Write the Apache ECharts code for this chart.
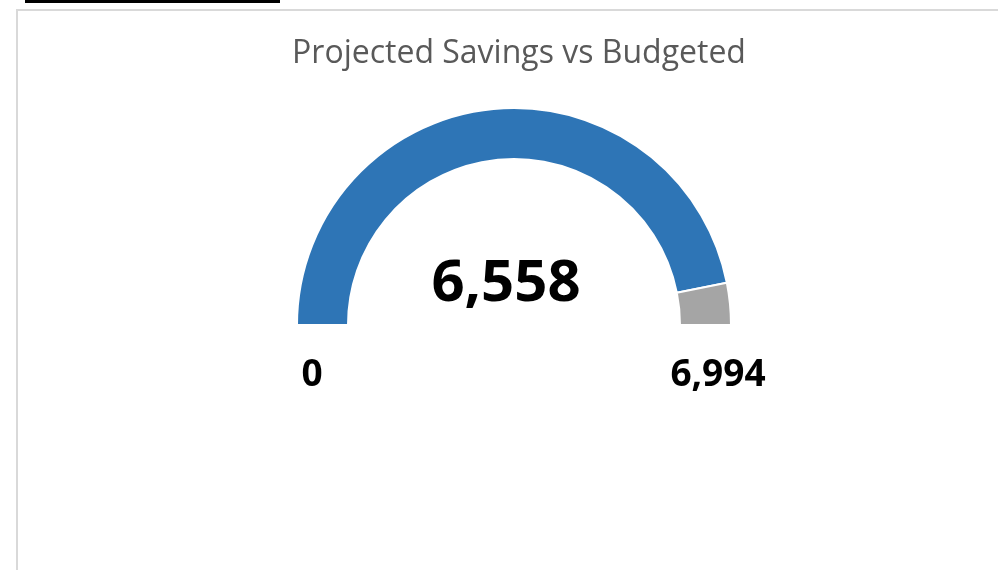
<!DOCTYPE html>
<html>
<head>
<meta charset="utf-8">
<script src="https://cdn.jsdelivr.net/npm/echarts@6/dist/echarts.min.js"></script>
<style>
  html, body { margin: 0; padding: 0; background: #fff; }
  #main { width: 998px; height: 570px; }
</style>
</head>
<body>
<div id="main"></div>
<script>
// gauge values
const projected = 6558
const budgeted = 6994
const minLabel = 0
const chartTitle = 'Projected Savings vs Budgeted'

const sliceNames = ['Projected', 'Remaining', 'Hidden']
const sliceColors = ['#2e75b6', '#a5a5a5', 'transparent']

const fmt = v => v.toLocaleString('en-US')

const chart = echarts.init(document.getElementById('main'))

const sliceValues = [projected, budgeted - projected, budgeted]

const option = {
    backgroundColor: '#fff',
    title: {
        text: chartTitle,
        left: 514,
        top: 33,
        textAlign: 'center',
        textStyle: {
            fontFamily: 'Open Sans',
            fontSize: 32,
            fontWeight: 'normal',
            color: '#595959'
        }
    },
    graphic: [
        // chart frame
        {
            type: 'polyline',
            shape: { points: [[17, 570], [17, 10], [998, 10]] },
            style: { stroke: '#d9d9d9', lineWidth: 2, fill: null }
        },
        // cut-off heading underline at the top
        {
            type: 'rect',
            shape: { x: 25, y: 0, width: 255, height: 3 },
            style: { fill: '#000' }
        },
        {
            type: 'text',
            style: {
                x: 506, y: 284,
                text: fmt(projected),
                fontFamily: 'Open Sans',
                fontWeight: 'bold',
                fontSize: 58,
                fill: '#000',
                textAlign: 'center',
                textVerticalAlign: 'middle'
            }
        },
        {
            type: 'text',
            style: {
                x: 312, y: 375,
                text: fmt(minLabel),
                fontFamily: 'Open Sans',
                fontWeight: 'bold',
                fontSize: 37,
                fill: '#000',
                textAlign: 'center',
                textVerticalAlign: 'middle'
            }
        },
        {
            type: 'text',
            style: {
                x: 718, y: 375,
                text: fmt(budgeted),
                fontFamily: 'Open Sans',
                fontWeight: 'bold',
                fontSize: 37,
                fill: '#000',
                textAlign: 'center',
                textVerticalAlign: 'middle'
            }
        }
    ],
    series: [
        {
            type: 'pie',
            center: [514, 325],
            radius: [166, 217],
            startAngle: 180,
            clockwise: true,
            silent: true,
            label: { show: false },
            labelLine: { show: false },
            data: sliceNames.map((n, i) => ({
                name: n,
                value: sliceValues[i],
                itemStyle: {
                    color: sliceColors[i],
                    borderColor: i === 2 ? 'transparent' : '#fff',
                    borderWidth: i === 2 ? 0 : 2
                }
            }))
        }
    ]
}

chart.setOption(option)
</script>
</body>
</html>
